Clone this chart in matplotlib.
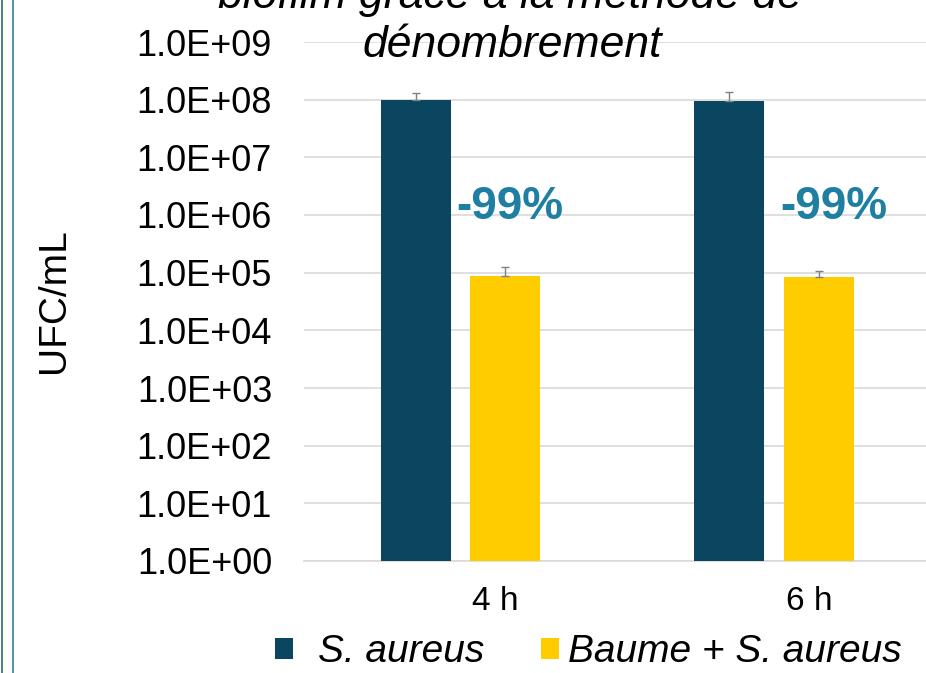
import matplotlib
matplotlib.use("Agg")
import matplotlib.pyplot as plt
import matplotlib.transforms as mtransforms
from matplotlib.lines import Line2D
from matplotlib.patches import Patch
from matplotlib.ticker import FuncFormatter, FixedLocator
import numpy as np

plt.rcParams['font.family'] = ['Liberation Sans', 'DejaVu Sans']

# ---- data ----
categories = ["4 h", "6 h"]
series_names = ["S. aureus", "Baume + S. aureus"]
s_aureus = [1.0e8, 9.6e7]
s_aureus_err = [3.2e7, 4.1e7]
baume = [8.65e4, 8.4e4]
baume_err = [3.7e4, 2.3e4]
reduction_labels = ["-99%", "-99%"]
ytick_values = [1e0, 1e1, 1e2, 1e3, 1e4, 1e5, 1e6, 1e7, 1e8, 1e9]
title_lines = ["biofilm grâce à la méthode de", "dénombrement"]
ylabel = "UFC/mL"

# ---- style ----
c_dark = "#0A4660"
c_yellow = "#FFCC00"
c_pct = "#1E7FA3"

W, H = 926, 673
fig = plt.figure(figsize=(W / 100, H / 100), dpi=100)
ax = fig.add_axes([304 / W, 1 - 561 / H, 626.6 / W, (561 - 42) / H])

x = np.arange(len(categories))
bw = 0.223
off = 0.1425
ax.bar(x - off, s_aureus, bw, color=c_dark, zorder=3, label=series_names[0])
ax.bar(x + off, baume, bw, color=c_yellow, zorder=3, label=series_names[1])
ax.errorbar(x - off, s_aureus, yerr=[np.zeros(len(x)), s_aureus_err], fmt='none',
            ecolor="#7F7F7F", elinewidth=1.0, capsize=3, capthick=1.0, zorder=4)
ax.errorbar(x + off, baume, yerr=[np.zeros(len(x)), baume_err], fmt='none',
            ecolor="#7F7F7F", elinewidth=1.0, capsize=3, capthick=1.0, zorder=4)

ax.set_yscale('log')
ax.set_ylim(1e0, 1e9)
ax.set_xlim(-0.5, 1.5)
ax.yaxis.set_major_locator(FixedLocator(ytick_values))
ax.yaxis.set_minor_locator(FixedLocator([]))
ax.yaxis.set_major_formatter(FuncFormatter(lambda v, p: f"{v:.1E}"))
ax.grid(axis='y', color="#D9D9D9", linewidth=1.2, zorder=0)
ax.set_axisbelow(True)
for s in ['top', 'right', 'left']:
    ax.spines[s].set_visible(False)
ax.spines['bottom'].set_color("#D9D9D9")
ax.spines['bottom'].set_linewidth(1.2)
ax.tick_params(axis='y', length=0, pad=23, labelsize=26)
ax.tick_params(axis='x', length=0, pad=18, labelsize=24)
ax.set_xticks(x)
ax.set_xticklabels(categories)
shift = mtransforms.ScaledTranslation(0.35, 0, fig.dpi_scale_trans)
for lab in ax.get_xticklabels():
    lab.set_transform(lab.get_transform() + shift)

# reduction annotations
pct_x = [0.157, 0.19]
for xi, lbl, px in zip(x, reduction_labels, pct_x):
    ax.text(xi + px, 1.4e6, lbl, color=c_pct, fontsize=33, fontweight='bold',
            ha='center', va='center', zorder=5)

# title (partially cut at top, as in the source)
fig.text(510 / W, 1 - 8 / H, title_lines[0], fontsize=32, style='italic',
         ha='center', va='baseline')
fig.text(512 / W, 1 - 57 / H, title_lines[1], fontsize=32, style='italic',
         ha='center', va='baseline')

fig.text(54 / W, 1 - 301 / H, ylabel, fontsize=28, rotation=90,
         ha='center', va='center')

# legend: two entries placed separately
legprops = dict(frameon=False, borderpad=0, borderaxespad=0,
                handlelength=0.45, handleheight=0.45,
                prop={'size': 28, 'style': 'italic'})
h1 = Patch(facecolor=c_dark)
h2 = Patch(facecolor=c_yellow)
leg1 = fig.legend([h1], [series_names[0]], loc='center left',
                  bbox_to_anchor=(275 / W, 1 - 652 / H), handletextpad=0.65,
                  **legprops)
leg2 = fig.legend([h2], [series_names[1]], loc='center left',
                  bbox_to_anchor=(541 / W, 1 - 652 / H), handletextpad=0.25,
                  **legprops)

# left border lines
fig.add_artist(Line2D([2 / W, 2 / W], [0, 1], color="#1E5A6B", linewidth=1.1,
                      transform=fig.transFigure))
fig.add_artist(Line2D([12.5 / W, 12.5 / W], [0, 1], color="#4F84A0", linewidth=1.3,
                      transform=fig.transFigure))

fig.savefig("out.png", dpi=100)
